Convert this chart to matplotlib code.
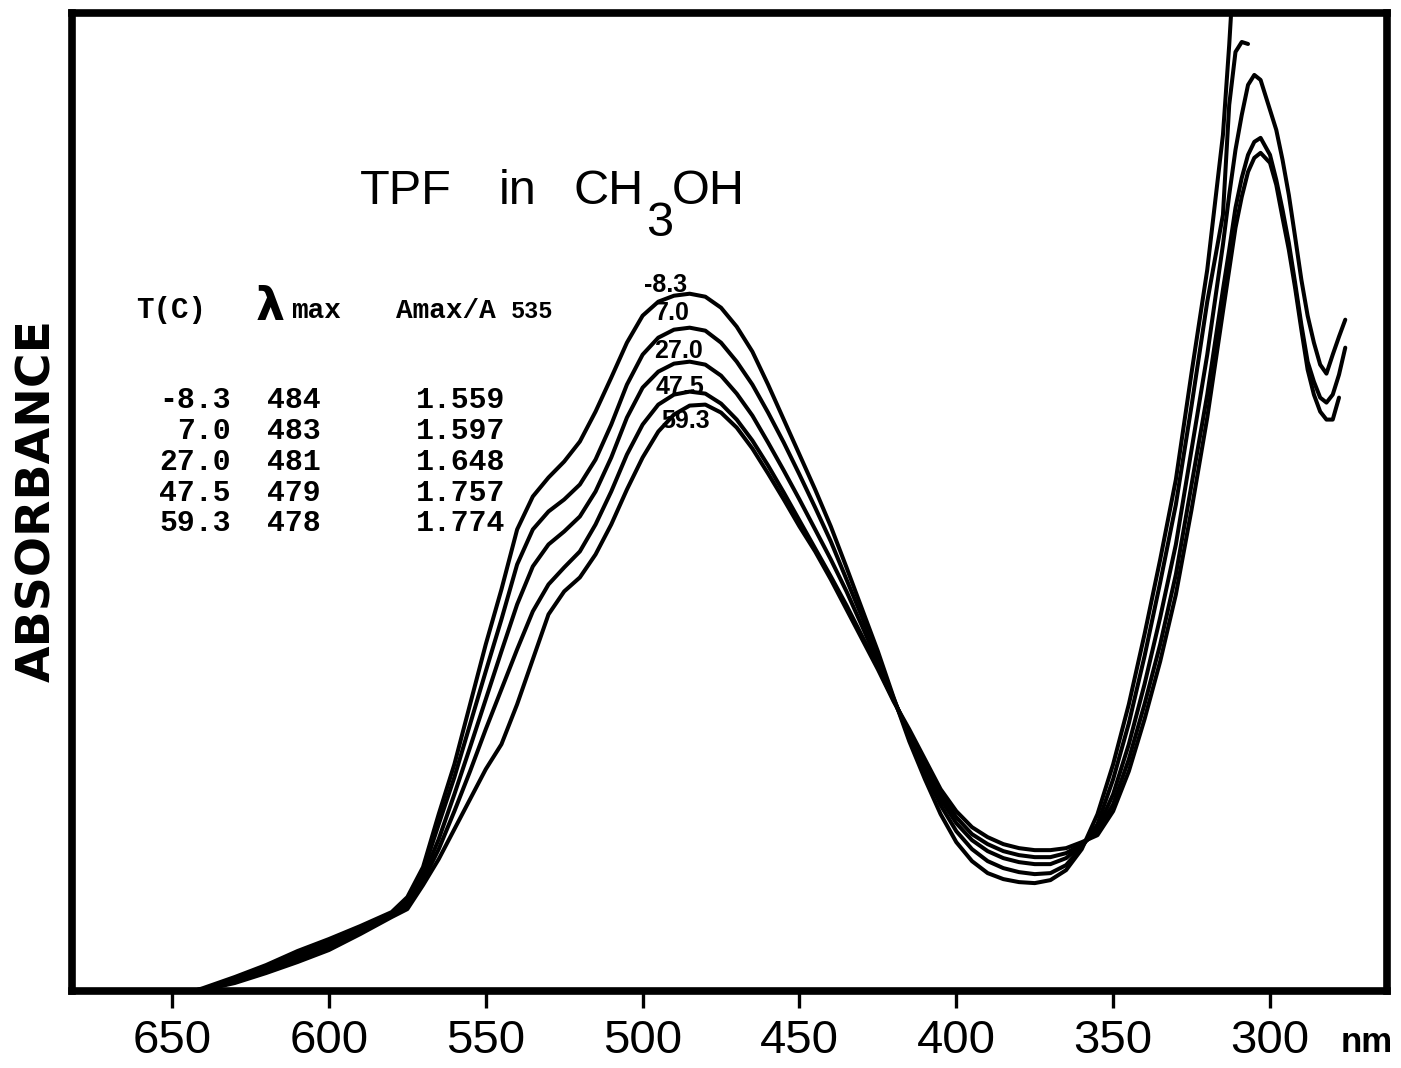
import numpy as np
import matplotlib
matplotlib.use("Agg")
import matplotlib.pyplot as plt

# wavelength grid (nm) and absorbance of the five spectra (arbitrary units)
nan = np.nan
wl = [642, 640, 630, 620, 610, 600, 590, 580, 575, 570, 565, 560, 555, 550, 545,
      540, 535, 530, 525, 520, 515, 510, 505, 500, 495, 490, 485, 480, 475, 470,
      465, 460, 455, 450, 445, 440, 435, 430, 425, 420, 415, 410, 405, 400, 395,
      390, 385, 380, 375, 370, 365, 360, 355, 350, 345, 340, 335, 330, 325, 320,
      315, 313, 311, 309, 307, 305, 303, 300, 298, 296, 294, 292, 290, 288, 286,
      284, 282, 280, 278, 276]

a_m8 = [0.001, 0.003, 0.014, 0.026, 0.040, 0.052, 0.065, 0.079, 0.094, 0.124, 0.177, 0.227, 0.287, 0.347, 0.402,
        0.462, 0.495, 0.514, 0.530, 0.550, 0.580, 0.614, 0.649, 0.676, 0.690, 0.696, 0.698, 0.695, 0.684, 0.665,
        0.640, 0.607, 0.572, 0.537, 0.502, 0.465, 0.424, 0.382, 0.340, 0.294, 0.250, 0.212, 0.177, 0.149, 0.130,
        0.118, 0.112, 0.109, 0.108, 0.111, 0.121, 0.142, 0.177, 0.227, 0.287, 0.357, 0.432, 0.512, 0.619, 0.722,
        0.857, 0.947, 1.052, nan, nan, nan, nan, nan, nan, nan, nan, nan, nan, nan, nan,
        nan, nan, nan, nan, nan]

a_7 = [0.001, 0.002, 0.012, 0.024, 0.037, 0.050, 0.063, 0.078, 0.091, 0.119, 0.167, 0.214, 0.267, 0.320, 0.372,
       0.427, 0.462, 0.480, 0.492, 0.507, 0.532, 0.567, 0.607, 0.637, 0.654, 0.662, 0.664, 0.661, 0.649, 0.630,
       0.607, 0.579, 0.549, 0.517, 0.484, 0.450, 0.412, 0.374, 0.334, 0.293, 0.254, 0.219, 0.186, 0.160, 0.142,
       0.130, 0.123, 0.119, 0.117, 0.118, 0.126, 0.144, 0.167, 0.212, 0.268, 0.335, 0.409, 0.487, 0.586, 0.690,
       0.777, 0.887, 0.940, 0.950, 0.948, nan, nan, nan, nan, nan, nan, nan, nan, nan, nan,
       nan, nan, nan, nan, nan]

a_27 = [0.001, 0.002, 0.011, 0.022, 0.034, 0.047, 0.061, 0.076, 0.088, 0.114, 0.152, 0.197, 0.244, 0.292, 0.340,
        0.387, 0.425, 0.447, 0.460, 0.475, 0.500, 0.534, 0.574, 0.604, 0.620, 0.628, 0.630, 0.627, 0.616, 0.598,
        0.576, 0.549, 0.521, 0.492, 0.462, 0.432, 0.400, 0.365, 0.329, 0.292, 0.257, 0.224, 0.192, 0.168, 0.151,
        0.140, 0.133, 0.129, 0.127, 0.127, 0.133, 0.146, 0.162, 0.197, 0.247, 0.307, 0.374, 0.447, 0.542, 0.637,
        0.747, 0.797, 0.842, 0.877, 0.907, 0.917, 0.912, 0.882, 0.862, 0.832, 0.797, 0.755, 0.712, 0.676, 0.649,
        0.627, 0.618, 0.637, 0.655, 0.672]

a_47 = [0.001, 0.001, 0.009, 0.020, 0.031, 0.044, 0.059, 0.075, 0.085, 0.110, 0.142, 0.180, 0.220, 0.262, 0.302,
        0.342, 0.380, 0.407, 0.424, 0.440, 0.467, 0.500, 0.537, 0.567, 0.587, 0.597, 0.600, 0.598, 0.588, 0.572,
        0.551, 0.526, 0.499, 0.471, 0.443, 0.415, 0.386, 0.355, 0.324, 0.291, 0.259, 0.228, 0.197, 0.174, 0.157,
        0.147, 0.140, 0.136, 0.134, 0.134, 0.138, 0.147, 0.159, 0.187, 0.232, 0.287, 0.347, 0.417, 0.507, 0.597,
        0.702, 0.742, 0.784, 0.814, 0.837, 0.850, 0.854, 0.837, 0.812, 0.782, 0.749, 0.709, 0.667, 0.630, 0.610,
        0.594, 0.589, 0.597, 0.617, 0.644]

a_59 = [0.001, 0.001, 0.008, 0.018, 0.029, 0.041, 0.057, 0.074, 0.082, 0.106, 0.132, 0.162, 0.192, 0.222, 0.247,
        0.287, 0.332, 0.377, 0.400, 0.414, 0.437, 0.467, 0.502, 0.534, 0.560, 0.577, 0.586, 0.587, 0.579, 0.564,
        0.543, 0.518, 0.492, 0.465, 0.440, 0.412, 0.382, 0.352, 0.322, 0.290, 0.262, 0.232, 0.202, 0.180, 0.164,
        0.154, 0.147, 0.143, 0.141, 0.141, 0.143, 0.149, 0.156, 0.180, 0.220, 0.272, 0.330, 0.397, 0.482, 0.574,
        0.680, 0.722, 0.764, 0.795, 0.820, 0.834, 0.839, 0.829, 0.807, 0.774, 0.742, 0.704, 0.662, 0.622, 0.597,
        0.580, 0.572, 0.572, 0.594, nan]

spectra = [a_m8, a_7, a_27, a_47, a_59]

# table printed on the chart
temps = ["-8.3", "7.0", "27.0", "47.5", "59.3"]
lam_max = ["484", "483", "481", "479", "478"]
ratio = ["1.559", "1.597", "1.648", "1.757", "1.774"]

xticks = [650, 600, 550, 500, 450, 400, 350, 300]

W, H = 1401, 1068
fig = plt.figure(figsize=(W / 100, H / 100), dpi=100)
ax = fig.add_axes([72 / W, 1 - 991 / H, (1387 - 72) / W, (991 - 13) / H])

for a in spectra:
    ax.plot(wl, a, color="black", lw=2.9, solid_capstyle="round", solid_joinstyle="round")

ax.set_xlim(681.9, 262.7)
ax.set_ylim(0, 0.979)
ax.set_yticks([])
ax.set_xticks(xticks)
ax.set_xticklabels([str(t) for t in xticks], fontsize=34, family="Liberation Sans")
ax.tick_params(axis="x", direction="out", length=12, width=2.4, pad=8)
for s in ax.spines.values():
    s.set_linewidth(5.5)


def fx(x):
    return x / W


def fy(y):
    return 1 - y / H


# axis captions
fig.text(fx(38), fy(500), "ABSORBANCE", rotation=90, ha="center", va="center",
         fontsize=34, fontweight="bold", family="DejaVu Sans")
fig.text(fx(1367), fy(1052), "nm", ha="center", va="baseline",
         fontsize=25, fontweight="bold", family="Liberation Sans")

# title  TPF in CH3OH
tfont = dict(fontsize=35, family="Liberation Sans", va="baseline")
fig.text(fx(360), fy(204), "TPF", **tfont)
fig.text(fx(499), fy(204), "in", **tfont)
fig.text(fx(574), fy(204), "CH", **tfont)
fig.text(fx(646), fy(236), "3", **tfont)
fig.text(fx(672), fy(204), "OH", **tfont)

# table
mono = dict(family="Liberation Mono", fontweight="bold", va="baseline")
fig.text(fx(136), fy(318), "T(C)", fontsize=21, **mono)
fig.text(fx(256), fy(320), "λ", fontsize=33, fontweight="bold", family="DejaVu Sans", va="baseline")
fig.text(fx(291), fy(318), "max", fontsize=20, **mono)
fig.text(fx(396), fy(318), "Amax/A", fontsize=20, **mono)
fig.text(fx(511), fy(318), "535", fontsize=17, **mono)
rows = [408, 439, 470, 501, 531]
for t, l, r, yb in zip(temps, lam_max, ratio, rows):
    fig.text(fx(231), fy(yb), t, fontsize=21.5, ha="right", **mono)
    fig.text(fx(267), fy(yb), l, fontsize=21.5, **mono)
    fig.text(fx(416), fy(yb), r, fontsize=21.5, **mono)

# temperature labels at the visible peak
lab_pos = [(492.8, 0.707), (490.6, 0.679), (488.7, 0.641), (488.1, 0.605), (486.2, 0.571)]
for t, (x, y) in zip(temps, lab_pos):
    ax.text(x, y, t, ha="center", va="center", fontsize=18, fontweight="bold",
            family="Liberation Sans")

fig.savefig("out.png", dpi=100)
